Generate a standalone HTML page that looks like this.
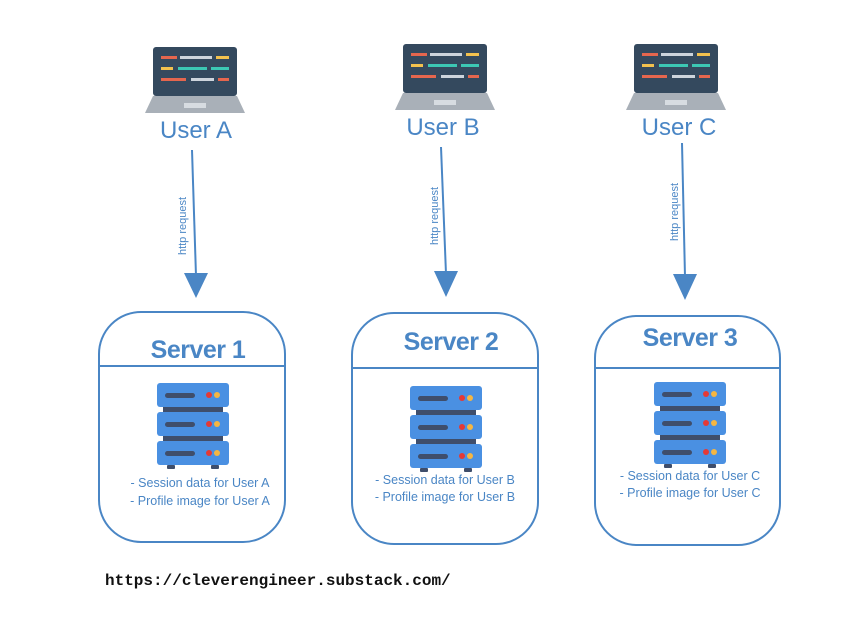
<!DOCTYPE html>
<html><head><meta charset="utf-8"><style>
html,body{margin:0;padding:0;background:#fff;}
svg{display:block;}
</style></head><body>
<svg width="863" height="627" viewBox="0 0 863 627" xmlns="http://www.w3.org/2000/svg" font-family="Liberation Sans, sans-serif">
<defs>
<g id="laptop">
 <rect x="8" y="0" width="84" height="49" rx="3" fill="#34495e"/>
 <rect x="16" y="9" width="16" height="3" fill="#e5664e"/>
 <rect x="35" y="9" width="32" height="3" fill="#cdd4dc"/>
 <rect x="71" y="9" width="13" height="3" fill="#f2c14e"/>
 <rect x="16" y="20" width="12" height="3" fill="#f2c14e"/>
 <rect x="33" y="20" width="29" height="3" fill="#3cc7b4"/>
 <rect x="66" y="20" width="18" height="3" fill="#3cc7b4"/>
 <rect x="16" y="31" width="25" height="3" fill="#e5664e"/>
 <rect x="46" y="31" width="23" height="3" fill="#cdd4dc"/>
 <rect x="73" y="31" width="11" height="3" fill="#e5664e"/>
 <path d="M8 49 H92 L100 66 H0 Z" fill="#a9b0b8"/>
 <rect x="39" y="56" width="22" height="5" fill="#d7dce1"/>
</g>
<g id="server">
 <rect x="6" y="22" width="60" height="8" fill="#3f4e6b"/>
 <rect x="6" y="52" width="60" height="8" fill="#3f4e6b"/>
 <rect x="0" y="0" width="72" height="24" rx="3" fill="#4a90e2"/>
 <rect x="0" y="29" width="72" height="24" rx="3" fill="#4a90e2"/>
 <rect x="0" y="58" width="72" height="24" rx="3" fill="#4a90e2"/>
 <rect x="8" y="10" width="30" height="5" rx="2.5" fill="#3f4e6b"/>
 <rect x="8" y="39" width="30" height="5" rx="2.5" fill="#3f4e6b"/>
 <rect x="8" y="68" width="30" height="5" rx="2.5" fill="#3f4e6b"/>
 <circle cx="52" cy="12" r="3" fill="#e53935"/><circle cx="60" cy="12" r="3" fill="#f5b642"/>
 <circle cx="52" cy="41" r="3" fill="#e53935"/><circle cx="60" cy="41" r="3" fill="#f5b642"/>
 <circle cx="52" cy="70" r="3" fill="#e53935"/><circle cx="60" cy="70" r="3" fill="#f5b642"/>
 <rect x="10" y="82" width="8" height="4" rx="1" fill="#3f4e6b"/>
 <rect x="54" y="82" width="8" height="4" rx="1" fill="#3f4e6b"/>
</g>
</defs>

<use href="#laptop" x="145" y="47"/>
<use href="#laptop" x="395" y="44"/>
<use href="#laptop" x="626" y="44"/>

<g fill="#4a86c5" font-size="24" text-anchor="middle">
 <text x="196" y="138">User A</text>
 <text x="443" y="135">User B</text>
 <text x="679" y="135">User C</text>
</g>

<g stroke="#4a86c5" stroke-width="2">
 <line x1="192" y1="150" x2="196" y2="276"/>
 <line x1="441" y1="147" x2="446" y2="274"/>
 <line x1="682" y1="143" x2="685" y2="277"/>
</g>
<g fill="#4a86c5">
 <path d="M184 273 L208 273 L196 298 Z"/>
 <path d="M434 271 L458 271 L446 297 Z"/>
 <path d="M673 274 L697 274 L685 300 Z"/>
</g>
<g fill="#4a86c5" font-size="11" text-anchor="middle">
 <text transform="translate(186,226) rotate(-90)">http request</text>
 <text transform="translate(438,216) rotate(-90)">http request</text>
 <text transform="translate(678,212) rotate(-90)">http request</text>
</g>

<g fill="none" stroke="#4a86c5" stroke-width="2">
 <rect x="99" y="312" width="186" height="230" rx="42"/>
 <line x1="99" y1="366" x2="285" y2="366"/>
 <rect x="352" y="313" width="186" height="231" rx="42"/>
 <line x1="352" y1="368" x2="538" y2="368"/>
 <rect x="595" y="316" width="185" height="229" rx="42"/>
 <line x1="595" y1="368" x2="780" y2="368"/>
</g>
<g fill="#4a86c5" font-size="25" font-weight="900" text-anchor="middle" letter-spacing="-0.5">
 <text x="198" y="358">Server 1</text>
 <text x="451" y="350">Server 2</text>
 <text x="690" y="346">Server 3</text>
</g>

<use href="#server" x="157" y="383"/>
<use href="#server" x="410" y="386"/>
<use href="#server" x="654" y="382"/>

<g fill="#4a86c5" font-size="12.5" text-anchor="middle">
 <text x="200" y="487">- Session data for User A</text>
 <text x="200" y="505">- Profile image for  User A</text>
 <text x="445" y="484">- Session data for User B</text>
 <text x="445" y="501">- Profile image for  User B</text>
 <text x="690" y="480">- Session data for User C</text>
 <text x="690" y="497">- Profile image for  User C</text>
</g>

<text x="105" y="585" font-family="Liberation Mono, monospace" font-weight="bold" font-size="16" fill="#111">https://cleverengineer.substack.com/</text>
</svg>
</body></html>
